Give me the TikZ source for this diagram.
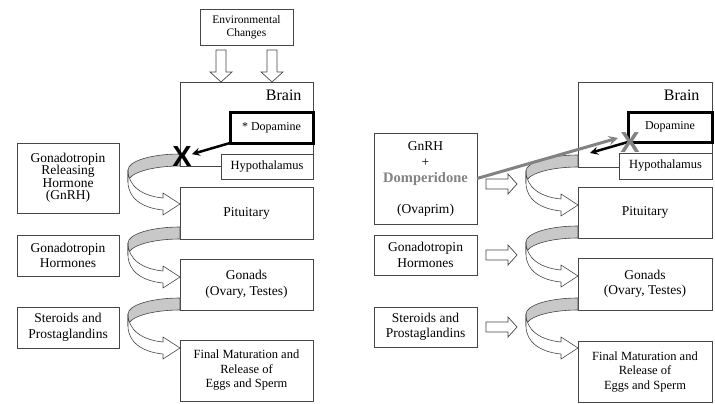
\documentclass[tikz,border=0pt]{standalone}
\usepackage{fontspec}
\setmainfont{Liberation Serif}
\newfontfamily\marcafont{Liberation Sans}
\usepackage{tikz}
\usetikzlibrary{arrows,calc}
\definecolor{grisLinea}{RGB}{70,70,70}
\definecolor{grisBanda}{RGB}{200,200,200}
\definecolor{grisFlecha}{RGB}{130,130,130}
\tikzstyle{box}   =[draw=grisLinea, fill=white, line width=0.8pt,
                    inner sep=0pt, outer sep=0pt, align=center,
                    font=\fontsize{13.5}{15.5}\selectfont]
\tikzstyle{dopbox}=[box, draw=black, line width=3pt,
                    font=\fontsize{12}{14}\selectfont]
\tikzstyle{small} =[font=\fontsize{12.5}{14.5}\selectfont]
\tikzstyle{band}  =[draw=grisLinea, fill=grisBanda, line width=0.6pt,
                    line join=round]
\tikzstyle{bandfront}=[band, fill=white]
\tikzstyle{blockarrow}=[draw=grisLinea, fill=white, line width=0.7pt]
\tikzstyle{arrowline}=[->, >=stealth, line width=2.5pt]
\tikzstyle{greyline} =[arrowline, grisFlecha, line width=3pt]
\tikzstyle{cruz}  =[inner sep=0pt,
                    font=\marcafont\bfseries\fontsize{29}{29}\selectfont]

\begin{document}
\begin{tikzpicture}[x=1pt,y=-1pt]
    \useasboundingbox (0,0) rectangle (715,404);

    % left panel
    \node[box, minimum width=93, minimum height=36,
          font=\fontsize{11.5}{13}\selectfont] (env) at (246.5,27)
          {Environmental\\Changes};
    \node[box, minimum width=133, minimum height=84] (brainL) at (246.5,124) {};
    \node[anchor=base east, font=\fontsize{16}{16}\selectfont] (brainLtxt)
          at (305,100) {Brain};
    \node[dopbox, minimum width=83, minimum height=31] (dopaL)
          at (271.5,127.5) {* Dopamine};
    \node[box, small, minimum width=92, minimum height=25] (hypoL)
          at (267,166.5) {Hypothalamus};
    \node[box, minimum width=133, minimum height=52] (pitL)
          at (246.5,213) {Pituitary};
    \node[box, minimum width=133, minimum height=51] (gonadL)
          at (246.5,284.5) {Gonads\\(Ovary, Testes)};
    \node[box, small, minimum width=133, minimum height=61] (finalL)
          at (246.5,370.5) {Final Maturation and\\Release of\\Eggs and Sperm};
    \node[box, minimum width=102, minimum height=70,
          font=\fontsize{13.5}{12.5}\selectfont] (gnrhL) at (68,178)
          {Gonadotropin\\Releasing\\Hormone\\(GnRH)};
    \node[box, minimum width=102, minimum height=41] (gonhL)
          at (68,255.5) {Gonadotropin\\Hormones};
    \node[box, minimum width=102, minimum height=41] (sterL)
          at (68,327.5) {Steroids and\\Prostaglandins};

    % right panel
    \node[box, minimum width=134, minimum height=85] (brainR) at (645,124.5) {};
    \node[anchor=base east, font=\fontsize{16}{16}\selectfont] (brainRtxt)
          at (703,100) {Brain};
    \node[dopbox, minimum width=84, minimum height=30] (dopaR)
          at (670,127) {Dopamine};
    \node[box, small, minimum width=93, minimum height=26] (hypoR)
          at (665.5,166) {Hypothalamus};
    \node[box, minimum width=134, minimum height=51] (pitR)
          at (645,212.5) {Pituitary};
    \node[box, minimum width=134, minimum height=52] (gonadR)
          at (645,284) {Gonads\\(Ovary, Testes)};
    \node[box, small, minimum width=134, minimum height=61] (finalR)
          at (645,372) {Final Maturation and\\Release of\\Eggs and Sperm};
    \node[box, minimum width=103, minimum height=91,
          font=\fontsize{13.5}{16}\selectfont] (gnrhR) at (425.5,178.5)
          {GnRH\\+\\{\color{grisFlecha}\bfseries\fontsize{14.5}{16}\selectfont Domperidone}\\[15pt](Ovaprim)};
    \node[box, minimum width=103, minimum height=40] (gonhR)
          at (425.5,255) {Gonadotropin\\Hormones};
    \node[box, minimum width=103, minimum height=40] (sterR)
          at (425.5,327) {Steroids and\\Prostaglandins};

    % curved arrows between the stages
    \foreach \a in {brainL,pitL,gonadL,brainR,pitR,gonadR}{
        \begin{scope}[shift={(\a.south west)}]
            \draw[band] (0,-12) .. controls (-28.7,-12) and (-52,-4.8) .. (-52,4)
                -- (-52,16) .. controls (-52,7.2) and (-28.7,0) .. (0,0) -- cycle;
            \draw[bandfront] (-52,4) .. controls (-52,20) and (-38,30) .. (-17,32)
                -- (-17,27) -- (0,38) -- (-17,49) -- (-17,44)
                .. controls (-38,42) and (-52,32) .. (-52,16) -- cycle;
        \end{scope}
    }

    % block arrows
    \foreach \dx in {-25.5,25.5}{
        \begin{scope}[shift={(env.south)}]
            \draw[blockarrow] ({\dx-5},5) -- ({\dx-5},27) -- ({\dx-11},27)
                -- (\dx,37) -- ({\dx+11},27) -- ({\dx+5},27) -- ({\dx+5},5) -- cycle;
        \end{scope}
    }
    \foreach \b/\dy in {gnrhR/5.5,gonhR/0,sterR/0}{
        \begin{scope}[shift={(\b.east)}]
            \draw[blockarrow] (9,{\dy-5}) -- (31,{\dy-5}) -- (31,{\dy-10})
                -- (40,\dy) -- (31,{\dy+10}) -- (31,{\dy+5}) -- (9,{\dy+5}) -- cycle;
        \end{scope}
    }

    % dopamine block
    \node[cruz] (xL) at (182,157) {X};
    \coordinate (bR) at (590,153);
    \coordinate (gR) at (618,138);
    \draw[arrowline] (dopaL.south west) -- (xL);
    \draw[arrowline] (dopaR.south west) -- (bR);
    \draw[greyline] (gnrhR.east) -- (gR);
    \node[cruz, grisFlecha] (xR) at (630,143) {X};

\end{tikzpicture}
\end{document}
